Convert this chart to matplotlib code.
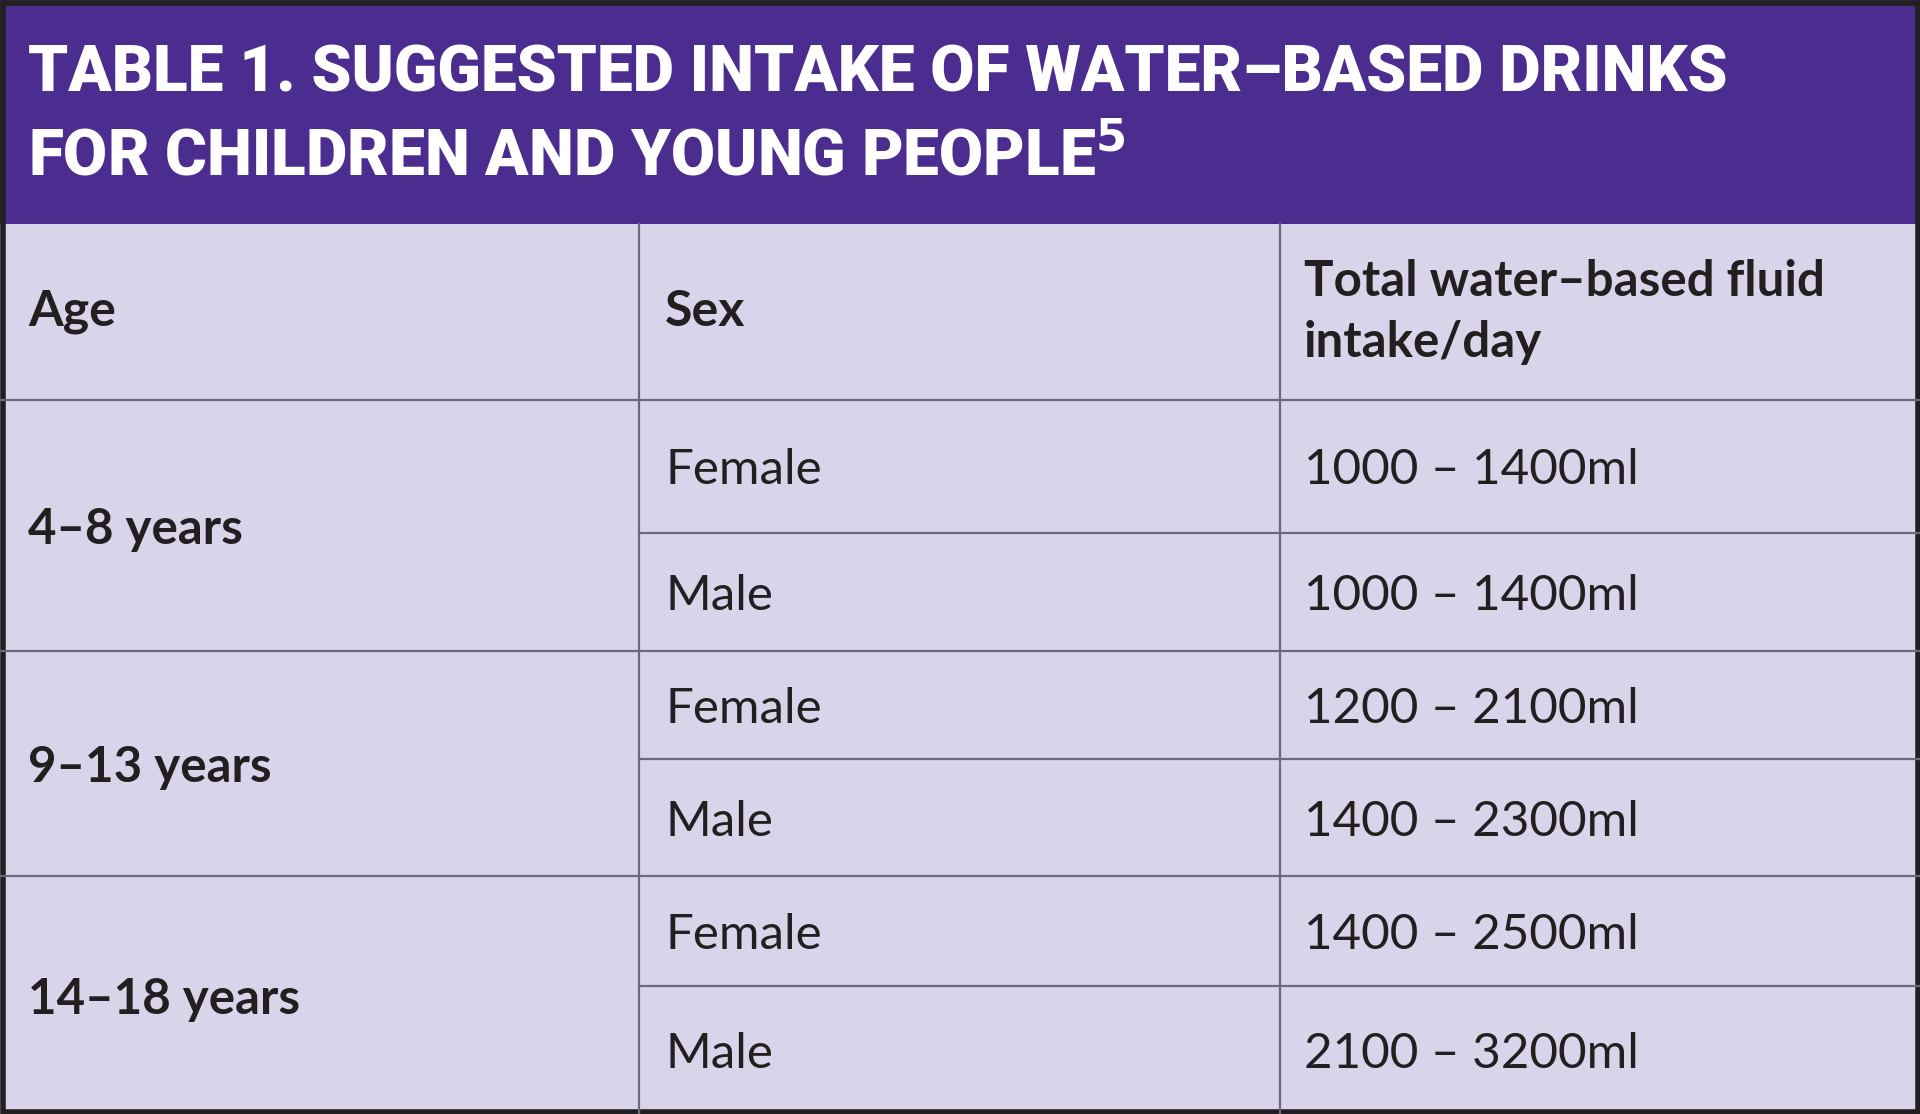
import matplotlib.pyplot as plt
from matplotlib.patches import Rectangle

# table content
title_lines = ["TABLE 1. SUGGESTED INTAKE OF WATER\u2013BASED DRINKS",
               "FOR CHILDREN AND YOUNG PEOPLE$^{\\mathbf{5}}$"]
headers = ["Age", "Sex", "Total water\u2013based fluid\nintake/day"]
age_groups = ["4\u20138 years", "9\u201313 years", "14\u201318 years"]
sexes = ["Female", "Male", "Female", "Male", "Female", "Male"]
intake = ["1000 \u2013 1400ml", "1000 \u2013 1400ml", "1200 \u2013 2100ml",
          "1400 \u2013 2300ml", "1400 \u2013 2500ml", "2100 \u2013 3200ml"]

# layout (pixels)
W, H = 1920, 1114
band_h = 224
col_x = [0, 639, 1280, 1920]
row_y = [224, 400, 533, 651, 759, 876, 986, 1114]

purple = "#4a2d8f"
cell_bg = "#dad4eb"
line_c = "#6c6880"
ink = "#231f20"

plt.rcParams['font.family'] = ['Lato', 'DejaVu Sans']

fig = plt.figure(figsize=(W / 100, H / 100), dpi=100)
ax = fig.add_axes([0, 0, 1, 1])
ax.set_xlim(0, W)
ax.set_ylim(H, 0)
ax.axis('off')

ax.add_patch(Rectangle((0, 0), W, H, facecolor=cell_bg, edgecolor='none'))
ax.add_patch(Rectangle((0, 0), W, band_h, facecolor=purple, edgecolor='none'))

# title
for i, line in enumerate(title_lines):
    ax.text(28, [92, 175][i], line, color='white', fontsize=46,
            fontweight='black', va='baseline', ha='left',
            family=['Roboto', 'DejaVu Sans'], fontstretch='condensed')

# grid lines
for y in row_y[1:-1]:
    if y in (row_y[2], row_y[4], row_y[6]):
        ax.plot([col_x[1], W], [y, y], color=line_c, lw=1.6)
    else:
        ax.plot([0, W], [y, y], color=line_c, lw=1.6)
for x in col_x[1:-1]:
    ax.plot([x, x], [row_y[0], H], color=line_c, lw=1.6)

# header row
hy = (row_y[0] + row_y[1]) / 2
ax.text(28, hy, headers[0], fontsize=36, fontweight='bold', color=ink, va='center')
ax.text(col_x[1] + 26, hy, headers[1], fontsize=36, fontweight='bold', color=ink, va='center')
ax.text(col_x[2] + 24, hy, headers[2], fontsize=35.5, fontweight='bold', color=ink,
        va='center', linespacing=1.42)

# age groups (merged cells)
for g, label in enumerate(age_groups):
    yc = (row_y[1 + 2 * g] + row_y[3 + 2 * g]) / 2
    ax.text(28, yc, label, fontsize=35.5, fontweight='bold', color=ink, va='center_baseline')

# sex and intake
for r in range(len(sexes)):
    yc = (row_y[1 + r] + row_y[2 + r]) / 2
    ax.text(col_x[1] + 26, yc, sexes[r], fontsize=35.5, color=ink, va='center_baseline')
    ax.text(col_x[2] + 24, yc, intake[r], fontsize=35.5, color=ink, va='center_baseline')

# outer frame
ax.add_patch(Rectangle((2.5, 2.5), W - 5, H - 5, facecolor='none', edgecolor=ink, lw=4))

fig.savefig('out.png', dpi=100)
